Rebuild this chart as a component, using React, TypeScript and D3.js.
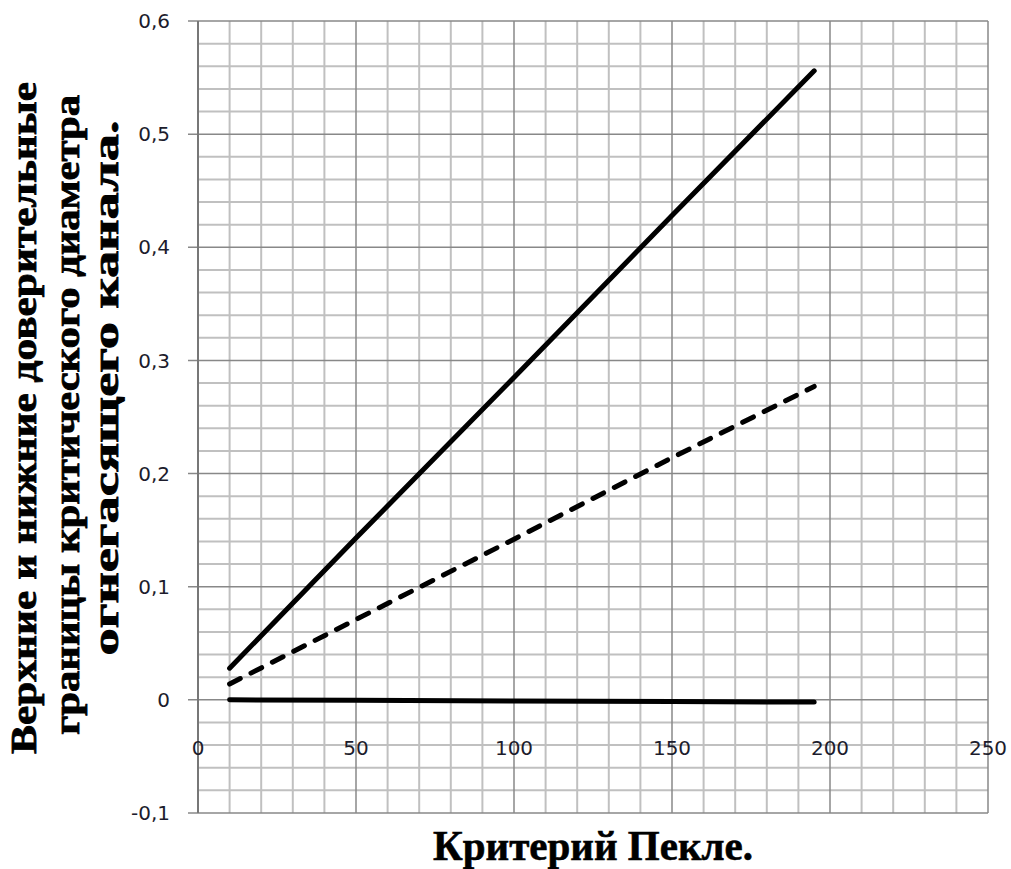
import * as d3 from 'd3';
import React, { useRef, useEffect } from 'react';

// Pe values at which the bounds were computed
const pecletNumbers = [10, 50, 100, 150, 195];
const upperBound = [0.028, 0.143, 0.285, 0.428, 0.556];
const meanDiameter = [0.014, 0.071, 0.142, 0.214, 0.277];
const lowerBound = [0.0, -0.0003, -0.001, -0.0015, -0.002];

const xTicks = [0, 50, 100, 150, 200, 250];
const yTicks = [-0.1, 0, 0.1, 0.2, 0.3, 0.4, 0.5, 0.6];

const yTitleLines = [
    'Верхние и нижние доверительные',
    'границы критического диаметра',
    'огнегасящего канала.',
];
const xTitle = 'Критерий Пекле.';

const App = () => {
    const svgRef = useRef<SVGSVGElement>(null);
    const width = 1011;
    const height = 869;

    useEffect(() => {
        draw();
    }, []);

    const draw = () => {
        d3.select(svgRef.current).selectAll('*').remove();
        const svg = d3.select(svgRef.current);

        const xScale = d3.scaleLinear().domain([0, 250]).range([198, 988]);
        const yScale = d3.scaleLinear().domain([-0.1, 0.6]).range([813, 21]);
        const fmt = d3.formatLocale({ decimal: ',', thousands: ' ', grouping: [3], currency: ['', ''], minus: '-' }).format('.1f');
        const yLabel = (d: number) => (Math.abs(d) < 1e-9 ? '0' : fmt(d));

        const [x0, x1] = xScale.range();
        const [y0, y1] = yScale.range();

        // minor grid
        const minorX = d3.range(0, 251, 10).filter((v) => v % 50 !== 0);
        const minorY = d3.range(-10, 61, 2).filter((v) => v % 10 !== 0).map((v) => v / 100);
        const grid = svg.append('g');
        grid.selectAll('.mx').data(minorX).enter().append('line')
            .attr('x1', (d) => xScale(d)).attr('x2', (d) => xScale(d))
            .attr('y1', y1).attr('y2', y0)
            .attr('stroke', '#c0c0c0').attr('stroke-width', 2);
        grid.selectAll('.my').data(minorY).enter().append('line')
            .attr('x1', x0).attr('x2', x1)
            .attr('y1', (d) => yScale(d)).attr('y2', (d) => yScale(d))
            .attr('stroke', '#c0c0c0').attr('stroke-width', 2);

        // major grid
        grid.selectAll('.Mx').data(xTicks).enter().append('line')
            .attr('x1', (d) => xScale(d)).attr('x2', (d) => xScale(d))
            .attr('y1', y1).attr('y2', y0)
            .attr('stroke', '#888').attr('stroke-width', 1.5);
        grid.selectAll('.My').data(yTicks).enter().append('line')
            .attr('x1', x0 - 10).attr('x2', x1)
            .attr('y1', (d) => yScale(d)).attr('y2', (d) => yScale(d))
            .attr('stroke', '#888').attr('stroke-width', 1.5);
        grid.append('line')
            .attr('x1', x0).attr('x2', x0).attr('y1', y1).attr('y2', y0)
            .attr('stroke', '#777').attr('stroke-width', 2);

        // tick labels
        svg.selectAll('.ylab').data(yTicks).enter().append('text')
            .attr('x', 170).attr('y', (d) => yScale(d))
            .attr('dy', '0.36em')
            .attr('text-anchor', 'end')
            .attr('font-family', 'DejaVu Sans')
            .attr('font-size', 20)
            .attr('fill', '#1c1c2c')
            .text(yLabel);
        svg.selectAll('.xlab').data(xTicks).enter().append('text')
            .attr('x', (d) => xScale(d)).attr('y', yScale(0) + 48)
            .attr('dy', '0.36em')
            .attr('text-anchor', 'middle')
            .attr('font-family', 'DejaVu Sans')
            .attr('font-size', 20)
            .attr('fill', '#1c1c2c')
            .text((d) => d);

        // series
        const line = (vals: number[]) =>
            d3.line<number>().x((_, i) => xScale(pecletNumbers[i])).y((d) => yScale(d))(vals);

        svg.append('path').attr('d', line(lowerBound))
            .attr('fill', 'none').attr('stroke', '#000').attr('stroke-width', 5)
            .attr('stroke-linecap', 'round');
        svg.append('path').attr('d', line(meanDiameter))
            .attr('fill', 'none').attr('stroke', '#000').attr('stroke-width', 5)
            .attr('stroke-linecap', 'round').attr('stroke-dasharray', '12 12');
        svg.append('path').attr('d', line(upperBound))
            .attr('fill', 'none').attr('stroke', '#000').attr('stroke-width', 5)
            .attr('stroke-linecap', 'round');

        // titles
        svg.append('text')
            .attr('x', 593).attr('y', 860)
            .attr('text-anchor', 'middle')
            .attr('font-family', 'Liberation Serif')
            .attr('font-weight', 'bold')
            .attr('font-size', 42)
            .attr('stroke', '#000').attr('stroke-width', 0.6)
            .attr('textLength', 320)
            .attr('lengthAdjust', 'spacingAndGlyphs')
            .text(xTitle);

        const yTitle = [
            { cx: 36, cy: 418, len: 672 },
            { cx: 79, cy: 415, len: 640 },
            { cx: 118, cy: 388, len: 535 },
        ];
        svg.selectAll('.ytitle').data(yTitleLines).enter().append('text')
            .attr('transform', (_, i) => `translate(${yTitle[i].cx}, ${yTitle[i].cy}) rotate(-90)`)
            .attr('text-anchor', 'middle')
            .attr('font-family', 'Liberation Serif')
            .attr('font-weight', 'bold')
            .attr('font-size', 36)
            .attr('stroke', '#000').attr('stroke-width', 0.8)
            .attr('textLength', (_, i) => yTitle[i].len)
            .attr('lengthAdjust', 'spacingAndGlyphs')
            .text((d) => d);
    };

    return (
        <svg ref={svgRef} width={width} height={height}
            style={{ position: 'absolute', left: 0, top: 0, background: '#fff' }}>
        </svg>
    );
};

export default App;
